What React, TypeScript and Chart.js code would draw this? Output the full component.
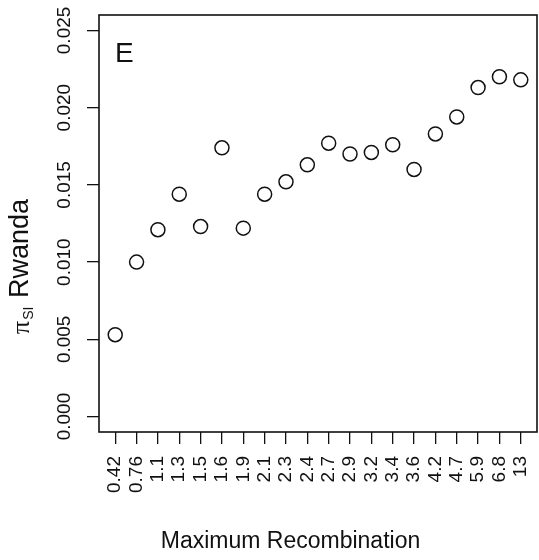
import { useEffect, useRef } from "react";
import { Chart, registerables } from "chart.js";

Chart.register(...registerables);

// Maximum recombination classes (x axis) and the matching π_SI estimates for Rwanda
const CATEGORIES = [
  "0.42", "0.76", "1.1", "1.3", "1.5", "1.6", "1.9", "2.1", "2.3", "2.4",
  "2.7", "2.9", "3.2", "3.4", "3.6", "4.2", "4.7", "5.9", "6.8", "13",
];
const PI_SI = [
  0.0053, 0.0100, 0.0121, 0.0144, 0.0123, 0.0174, 0.0122, 0.0144, 0.0152, 0.0163,
  0.0177, 0.0170, 0.0171, 0.0176, 0.0160, 0.0183, 0.0194, 0.0213, 0.0220, 0.0218,
];
const Y_TICKS = [0, 0.005, 0.01, 0.015, 0.02, 0.025];
const PANEL_LABEL = "E";
const X_TITLE = "Maximum Recombination";
const Y_TITLE_SYMBOL = "π";
const Y_TITLE_SUB = "SI";
const Y_TITLE_REST = "Rwanda";

const SANS = "'Liberation Sans', Arial, Helvetica, sans-serif";
const INK = "#111";

const WIDTH = 539;
const HEIGHT = 560;

// Box, panel letter and axis titles drawn in R base-graphics style
const decorations = {
  id: "decorations",
  afterDraw(chart: Chart) {
    const { ctx, chartArea } = chart;
    const { left, top, right, bottom } = chartArea;
    ctx.save();

    ctx.strokeStyle = INK;
    ctx.lineWidth = 1.6;
    ctx.strokeRect(left, top, right - left, bottom - top);

    ctx.fillStyle = INK;
    ctx.textBaseline = "alphabetic";

    ctx.font = `28px ${SANS}`;
    ctx.textAlign = "left";
    ctx.fillText(PANEL_LABEL, left + 16, top + 47);

    ctx.font = `23px ${SANS}`;
    ctx.textAlign = "center";
    ctx.fillText(X_TITLE, 290.5, 548);

    // rotated y title: π with subscript SI, then "Rwanda"
    ctx.translate(29, 334);
    ctx.rotate(-Math.PI / 2);
    ctx.textAlign = "left";
    ctx.font = `26px 'Liberation Serif', 'DejaVu Serif', serif`;
    ctx.fillText(Y_TITLE_SYMBOL, 0, 0);
    const wPi = ctx.measureText(Y_TITLE_SYMBOL).width;
    ctx.font = `14px ${SANS}`;
    ctx.fillText(Y_TITLE_SUB, wPi + 1, 4);
    ctx.font = `27px ${SANS}`;
    ctx.fillText(Y_TITLE_REST, 36, -1);

    ctx.restore();
  },
};

export default function App() {
  const canvasRef = useRef<HTMLCanvasElement | null>(null);

  useEffect(() => {
    const canvas = canvasRef.current;
    if (!canvas) return;

    const chart = new Chart(canvas, {
      type: "scatter",
      data: {
        datasets: [
          {
            data: PI_SI.map((v, i) => ({ x: i + 1, y: v })),
            pointStyle: "circle",
            pointRadius: 7,
            pointBorderWidth: 1.5,
            pointBorderColor: INK,
            pointBackgroundColor: "rgba(255,255,255,0)",
            showLine: false,
          },
        ],
      },
      options: {
        responsive: false,
        animation: false,
        devicePixelRatio: 1,
        layout: { autoPadding: false, padding: { top: 15, right: 2, left: 0, bottom: 0 } },
        plugins: {
          legend: { display: false },
          tooltip: { enabled: false },
        },
        scales: {
          x: {
            type: "linear",
            min: 0.24,
            max: CATEGORIES.length + 0.76,
            afterBuildTicks: (scale: any) => {
              scale.ticks = CATEGORIES.map((_, i) => ({ value: i + 1 }));
            },
            afterFit: (scale: any) => {
              scale.height = 128;
              scale.paddingLeft = 0;
              scale.paddingRight = 0;
            },
            border: { display: false },
            grid: {
              drawOnChartArea: false,
              drawTicks: true,
              tickLength: 12,
              color: INK,
              lineWidth: 1.3,
            },
            ticks: {
              autoSkip: false,
              minRotation: 90,
              maxRotation: 90,
              padding: 12,
              color: INK,
              font: { family: SANS, size: 19 },
              callback: (v: any) => CATEGORIES[Math.round(Number(v)) - 1] ?? "",
            },
          },
          y: {
            type: "linear",
            min: -0.001,
            max: 0.026,
            afterBuildTicks: (scale: any) => {
              scale.ticks = Y_TICKS.map((v) => ({ value: v }));
            },
            afterFit: (scale: any) => {
              scale.width = 99;
              scale.paddingTop = 0;
              scale.paddingBottom = 0;
            },
            border: { display: false },
            grid: {
              drawOnChartArea: false,
              drawTicks: true,
              tickLength: 12,
              color: INK,
              lineWidth: 1.3,
            },
            ticks: {
              autoSkip: false,
              minRotation: 90,
              maxRotation: 90,
              crossAlign: "center",
              padding: -2,
              color: INK,
              font: { family: SANS, size: 19 },
              callback: (v: any) => Number(v).toFixed(3),
            },
          },
        },
      },
      plugins: [decorations],
    });

    return () => chart.destroy();
  }, []);

  return (
    <div style={{ position: "fixed", left: 0, top: 0, width: WIDTH, height: HEIGHT, background: "#fff" }}>
      <canvas ref={canvasRef} width={WIDTH} height={HEIGHT} style={{ display: "block" }} />
    </div>
  );
}
